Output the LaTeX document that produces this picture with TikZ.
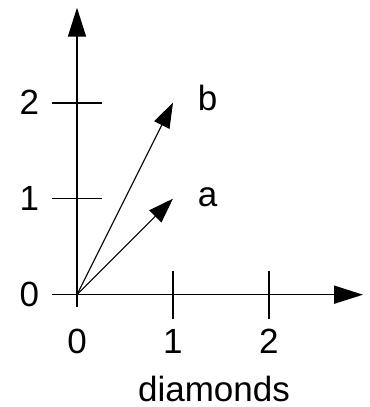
\documentclass[tikz,border=0pt]{standalone}
\usepackage{fontspec}
\setmainfont{Liberation Sans}
\usepackage{tikz}
\usetikzlibrary{arrows.meta,calc}

\begin{document}
\begin{tikzpicture}[x=96pt,y=96pt]
	\tikzset{axis/.style={line width=1.6pt,-{Triangle[length=29pt,width=18pt]}}}
	\tikzset{vec/.style={line width=1.1pt,-{Triangle[length=25pt,width=17pt]}}}
	\tikzset{tick/.style={line width=1.6pt}}
	\tikzset{lbl/.style={inner sep=0pt,font=\fontsize{35}{40}\selectfont}}
	\useasboundingbox (-0.802,-1.170) rectangle (3.052,3.070);

	% axis ends
	\coordinate (o) at (0,0);
	\coordinate (xstart) at (-0.26,0);
	\coordinate (xend) at (2.98,0);
	\coordinate (ystart) at (0,-0.13);
	\coordinate (yend) at (0,2.99);
	\coordinate (atip) at (1,1);
	\coordinate (btip) at (1,2);

	% axes
	\draw[axis] (xstart) to (xend);
	\draw[axis] (ystart) to (yend);

	% ticks
	\foreach \i in {0,1,2} {
		\coordinate (yl\i) at (-0.26,\i);
		\coordinate (yr\i) at (0.26,\i);
		\draw[tick] (yl\i) to (yr\i);
		\node[lbl] (ylab\i) at (-0.495,\i) {\i};
		\node[lbl] (xlab\i) at (\i,-0.49) {\i};
	}
	\foreach \i in {1,2} {
		\coordinate (xb\i) at (\i,-0.25);
		\coordinate (xt\i) at (\i,0.25);
		\draw[tick] (xb\i) to (xt\i);
	}

	% vectors
	\draw[vec] (o) to (atip);
	\draw[vec] (o) to (btip);
	\node[lbl] (alab) at (1.36,1.016) {a};
	\node[lbl] (blab) at (1.36,2.047) {b};
	\node[lbl,anchor=base] (xname) at (1.427,-1.115) {diamonds};
\end{tikzpicture}
\end{document}
